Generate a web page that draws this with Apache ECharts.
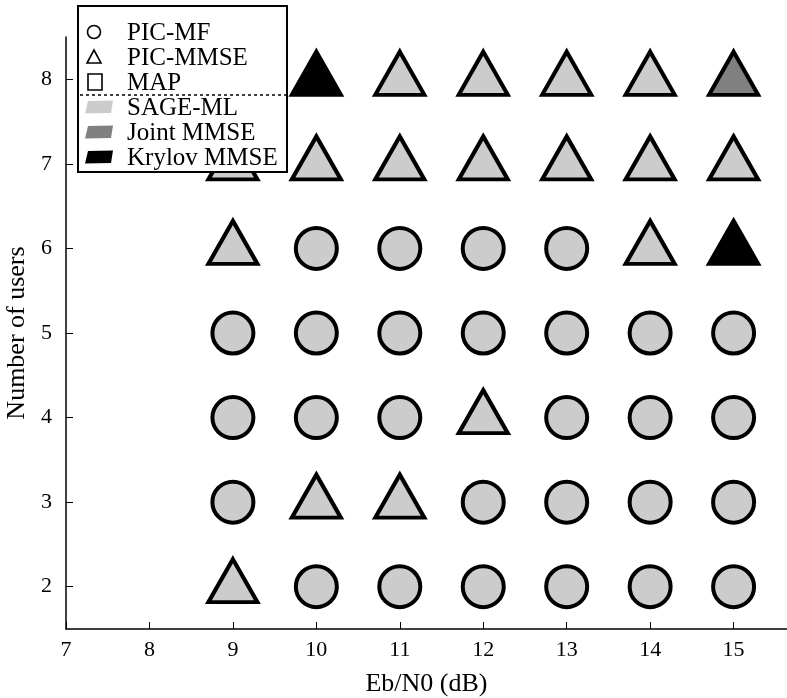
<!DOCTYPE html>
<html>
<head>
<meta charset="utf-8">
<script src="https://cdn.jsdelivr.net/npm/echarts@6/dist/echarts.min.js"></script>
<style>html,body{margin:0;padding:0;background:#fff}#c{width:787px;height:698px}</style>
</head>
<body>
<div id="c"></div>
<script>
// Data: [Eb/N0 (dB), number of users]
var picMfSage = [
  [10,2],[11,2],[12,2],[13,2],[14,2],[15,2],
  [9,3],[12,3],[13,3],[14,3],[15,3],
  [9,4],[10,4],[11,4],[13,4],[14,4],[15,4],
  [9,5],[10,5],[11,5],[12,5],[13,5],[14,5],[15,5],
  [10,6],[11,6],[12,6],[13,6]
];
var picMmseSage = [
  [9,2],[10,3],[11,3],[12,4],[9,6],[14,6],
  [9,7],[10,7],[11,7],[12,7],[13,7],[14,7],[15,7],
  [9,8],[11,8],[12,8],[13,8],[14,8]
];
var picMmseJoint = [[15,8]];
var picMmseKrylov = [[10,8],[15,6]];
var xTicks = [7,8,9,10,11,12,13,14,15];
var yTicks = [2,3,4,5,6,7,8];
var legendShapes = ['PIC-MF','PIC-MMSE','MAP'];
var legendColors = ['SAGE-ML','Joint MMSE','Krylov MMSE'];
var colorMap = {'SAGE-ML':'#cccccc','Joint MMSE':'#808080','Krylov MMSE':'#000000'};

var FONT = '"Liberation Serif", "DejaVu Serif", serif';
var chart = echarts.init(document.getElementById('c'), null, {renderer:'canvas'});

function triSeries(name, data, color){
  return {
    name: name, type:'scatter', data:data,
    symbol:'triangle', symbolSize:[49,43], symbolOffset:[0,-6],
    itemStyle:{color:color, borderColor:'#000', borderWidth:4, borderJoin:'miter', opacity:1},
    emphasis:{disabled:true}, z:3
  };
}

var legendG = [];
legendG.push({type:'rect', z:100, shape:{x:78,y:6,width:209,height:166},
  style:{fill:'#fff', stroke:'#000', lineWidth:2}});
var rowsY = [32,57,82,107,132,157];
legendG.push({type:'circle', z:101, shape:{cx:94,cy:32,r:6.5}, style:{fill:'none',stroke:'#000',lineWidth:1.6}});
legendG.push({type:'polygon', z:101, shape:{points:[[87,63],[101,63],[94,50]]}, style:{fill:'none',stroke:'#000',lineWidth:1.6}});
legendG.push({type:'rect', z:101, shape:{x:88,y:74,width:14,height:16}, style:{fill:'none',stroke:'#000',lineWidth:1.6}});
legendG.push({type:'line', z:101, shape:{x1:80,y1:95,x2:286,y2:95}, style:{stroke:'#000',lineWidth:1.5,lineDash:[3,3]}});
for (var i=0;i<3;i++){
  var y = rowsY[3+i];
  legendG.push({type:'polygon', z:101, shape:{points:[[88,y-6],[113,y-6.5],[111,y+6],[85,y+6.5]]},
    style:{fill:colorMap[legendColors[i]]}});
}
var legendTexts = legendShapes.concat(legendColors);
for (var j=0;j<legendTexts.length;j++){
  legendG.push({type:'text', z:101, x:127, y:rowsY[j]+1,
    style:{text:legendTexts[j], font:'25px '+FONT, fill:'#000', verticalAlign:'middle', textAlign:'left'}});
}

chart.setOption({
  animation:false,
  backgroundColor:'#fff',
  grid:{left:66, right:0, top:37, bottom:69, containLabel:false, outerBoundsMode:'none'},
  xAxis:{
    type:'value', min:7, max:15.64, interval:1,
    name:'Eb/N0 (dB)', nameLocation:'middle', nameGap:42,
    nameTextStyle:{fontFamily:FONT, fontSize:26, color:'#000'},
    axisLine:{show:true, onZero:false, lineStyle:{color:'#000', width:1.5}},
    axisTick:{show:true, inside:true, length:7, lineStyle:{color:'#000', width:1}},
    axisLabel:{fontFamily:FONT, fontSize:22, color:'#000', margin:10, showMaxLabel:false,
      formatter:function(v){ return xTicks.indexOf(v)>=0 ? String(v) : ''; }},
    splitLine:{show:false}
  },
  yAxis:{
    type:'value', min:1.5, max:8.5,
    name:'Number of users', nameLocation:'middle', nameGap:31,
    nameTextStyle:{fontFamily:FONT, fontSize:26, color:'#000'},
    axisLine:{show:true, onZero:false, lineStyle:{color:'#000', width:1.5}},
    axisTick:{show:true, inside:true, length:7, lineStyle:{color:'#000', width:1},
      customValues: yTicks},
    axisLabel:{fontFamily:FONT, fontSize:22, color:'#000', margin:14, customValues: yTicks},
    splitLine:{show:false}
  },
  series:[
    {name:'PIC-MF / SAGE-ML', type:'scatter', data:picMfSage, symbol:'circle', symbolSize:41,
      itemStyle:{color:'#cccccc', borderColor:'#000', borderWidth:4, opacity:1}, emphasis:{disabled:true}, z:3},
    triSeries('PIC-MMSE / SAGE-ML', picMmseSage, '#cccccc'),
    triSeries('PIC-MMSE / Joint MMSE', picMmseJoint, '#808080'),
    triSeries('PIC-MMSE / Krylov MMSE', picMmseKrylov, '#000000')
  ],
  graphic: legendG
});
</script>
</body>
</html>
